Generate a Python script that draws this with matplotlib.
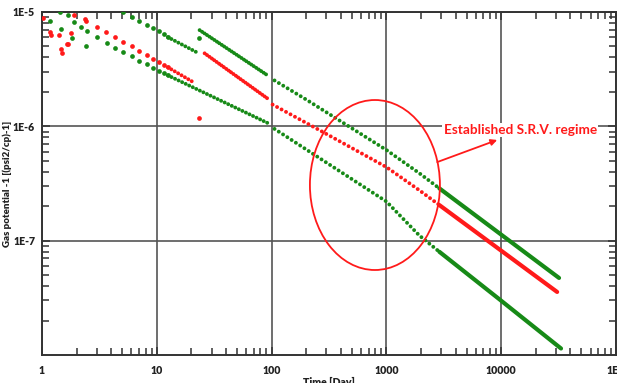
import matplotlib
matplotlib.use("Agg")
import matplotlib.pyplot as plt
from matplotlib.patches import Ellipse
from matplotlib.ticker import FixedLocator, LogLocator, NullFormatter

# ---------------- data (time in days, gas potential^-1 in (psi2/cp)^-1) ----------------
# early scattered points
red_early_t = [1.02, 1.17, 1.20, 1.41, 1.46, 1.49, 1.65, 1.68, 1.79, 1.90, 2.37, 2.41, 3.01]
red_early_v = [8.9e-6, 6.7e-6, 6.3e-6, 6.3e-6, 4.7e-6, 4.4e-6, 5.2e-6, 5.3e-6, 6.5e-6,
               9.4e-6, 8.7e-6, 8.3e-6, 7.4e-6]
green_early_t = [1.17, 1.46, 1.82, 2.41]
green_early_v = [8.3e-6, 7.1e-6, 5.9e-6, 5.0e-6]

# first flow period, sparse sampling
red1_t = [3.60, 4.31, 5.06, 6.07, 6.97, 8.19, 9.23, 10.4, 11.5, 12.5]
red1_v = [6.67e-6, 6.02e-6, 5.44e-6, 5.02e-6, 4.53e-6, 4.18e-6, 3.85e-6, 3.63e-6, 3.41e-6, 3.28e-6]
green_mid_t = [1.43, 1.68, 1.90, 2.18, 2.46, 3.01, 3.67, 4.31, 5.06, 6.07, 6.97, 8.19, 9.23,
               10.4, 11.5, 12.5]
green_mid_v = [1.0e-5, 9.4e-6, 8.2e-6, 7.4e-6, 6.8e-6, 6.0e-6, 5.33e-6, 4.82e-6, 4.44e-6,
               4.10e-6, 3.70e-6, 3.48e-6, 3.21e-6, 3.02e-6, 2.90e-6, 2.79e-6]
green_up_t = [5.06, 6.07, 6.97, 8.19, 9.23, 10.4, 11.5, 12.5]
green_up_v = [1.0e-5, 9.04e-6, 8.33e-6, 7.68e-6, 7.23e-6, 6.80e-6, 6.40e-6, 6.02e-6]

# first flow period, dense sampling
red1_dense_t = [12.5, 21.0]
red1_dense_v = [3.28e-6, 2.42e-6]
green_mid_dense_t = [12.5, 96.0]
green_mid_dense_v = [2.79e-6, 1.05e-6]
green_up_dense_t = [12.5, 22.3]
green_up_dense_v = [6.02e-6, 4.44e-6]

# second flow period (20 - 100 days)
green_top2_t = [23.6, 92.3]
green_top2_v = [6.94e-6, 2.79e-6]
red2_t = [26.1, 92.3]
red2_v = [4.35e-6, 1.75e-6]
single_t = [23.2, 23.2]
single_v = [5.9e-6, 1.19e-6]

# late time (> 100 days), dotted part then continuous part
green_top_t = [106, 201, 1000, 1936, 2890]
green_top_v = [2.52e-6, 1.71e-6, 6.21e-7, 3.89e-7, 2.87e-7]
green_top_end_t = [2890, 31900]
green_top_end_v = [2.87e-7, 4.72e-8]

red_late_t = [102, 278, 1000, 1936, 2890]
red_late_v = [1.55e-6, 8.95e-7, 4.40e-7, 2.76e-7, 2.05e-7]
red_late_end_t = [2890, 30700]
red_late_end_v = [2.05e-7, 3.56e-8]

green_low_t = [106, 261, 1000, 1936, 2890]
green_low_v = [9.5e-7, 5.28e-7, 2.2e-7, 1.11e-7, 8.0e-8]
green_low_end_t = [2890, 9610, 33200]
green_low_end_v = [8.0e-8, 3.08e-8, 1.14e-8]

x_ticks = [1, 10, 100, 1000, 10000, 100000]
x_labels = ["1", "10", "100", "1000", "10000", "1E5"]
y_ticks = [1e-7, 1e-6, 1e-5]
y_labels = ["1E-7", "1E-6", "1E-5"]

# ---------------- styling ----------------
GREEN = "#178a17"
RED = "#ff1a1a"
FONT = "Lato"
TXT = "#222222"

fig = plt.figure(figsize=(6.17, 3.83), dpi=100)
ax = fig.add_axes([42 / 617, 1 - 355 / 383, 574 / 617, 343 / 383])
ax.set_xscale("log")
ax.set_yscale("log")
ax.set_xlim(1, 1e5)
ax.set_ylim(1e-8, 1e-5)

ax.grid(True, which="major", color="#555555", lw=1.2)
ax.set_axisbelow(True)


def dots(t, v, color, gap, lw=2.8):
    ax.plot(t, v, color=color, lw=lw, ls=(0, (0.01, gap)),
            dash_capstyle="round", solid_capstyle="round", zorder=3)


def solid(t, v, color, lw=3.0):
    ax.plot(t, v, color=color, lw=lw, solid_capstyle="round", zorder=3)


def marks(t, v, color, ms=3.4):
    ax.plot(t, v, "o", color=color, ms=ms, mec="none", zorder=3)


marks(red_early_t, red_early_v, RED)
marks(green_early_t, green_early_v, GREEN)
marks(red1_t, red1_v, RED)
marks(green_mid_t, green_mid_v, GREEN)
marks(green_up_t, green_up_v, GREEN)

dots(red1_dense_t, red1_dense_v, RED, 1.0)
dots(green_mid_dense_t, green_mid_dense_v, GREEN, 1.0)
dots(green_up_dense_t, green_up_dense_v, GREEN, 1.0)

dots(green_top2_t, green_top2_v, GREEN, 0.75)
dots(red2_t, red2_v, RED, 0.75)
marks(single_t[:1], single_v[:1], GREEN)
marks(single_t[1:], single_v[1:], RED)

dots(green_top_t, green_top_v, GREEN, 1.3)
dots(red_late_t, red_late_v, RED, 1.3)
dots(green_low_t, green_low_v, GREEN, 1.3)
solid(green_top_end_t, green_top_end_v, GREEN)
solid(red_late_end_t, red_late_end_v, RED)
solid(green_low_end_t, green_low_end_v, GREEN)

# annotation: ellipse, arrow and label
ax.add_patch(Ellipse((0.580, 0.4956), 0.2265, 0.4956, transform=ax.transAxes,
                     fill=False, ec=RED, lw=1.3, zorder=4))
ax.annotate("", xy=(9230, 7.6e-7), xytext=(2775, 4.87e-7),
            arrowprops=dict(arrowstyle="-|>", color=RED, lw=1.3,
                            mutation_scale=9, shrinkA=0, shrinkB=0), zorder=4)
ax.text(14600, 9.3e-7, "Established S.R.V. regime", color=RED, fontsize=9.8,
        fontweight="bold", family=FONT, ha="center", va="center", zorder=5,
        bbox=dict(fc="white", ec="none", pad=1.0))

# axes, ticks, labels
ax.xaxis.set_major_locator(FixedLocator(x_ticks))
ax.set_xticklabels(x_labels)
ax.yaxis.set_major_locator(FixedLocator(y_ticks))
ax.set_yticklabels(y_labels)
ax.xaxis.set_minor_locator(LogLocator(base=10, subs=range(2, 10), numticks=20))
ax.yaxis.set_minor_locator(LogLocator(base=10, subs=range(2, 10), numticks=20))
ax.xaxis.set_minor_formatter(NullFormatter())
ax.yaxis.set_minor_formatter(NullFormatter())

ax.tick_params(which="both", direction="in", top=True, right=True, color="#333333", width=1.1)
ax.tick_params(which="major", length=6)
ax.tick_params(which="minor", length=5)
ax.tick_params(axis="x", which="major", pad=7)
ax.tick_params(axis="y", which="major", pad=5)
for lab in ax.get_xticklabels() + ax.get_yticklabels():
    lab.set_fontfamily(FONT)
    lab.set_fontweight("heavy")
    lab.set_fontsize(7.6)
    lab.set_color(TXT)

for sp in ax.spines.values():
    sp.set_color("#333333")
    sp.set_linewidth(1.4)

ax.set_xlabel("Time [Day]", fontsize=7.6, fontweight="heavy", family=FONT, color=TXT)
ax.xaxis.set_label_coords(0.5, -0.064)
ax.set_ylabel("Gas potential -1 [(psi2/cp)-1]", fontsize=7, fontweight="heavy",
              family=FONT, color=TXT)
ax.yaxis.set_label_coords(-0.052, 0.5)

fig.savefig("out.png", dpi=100)
